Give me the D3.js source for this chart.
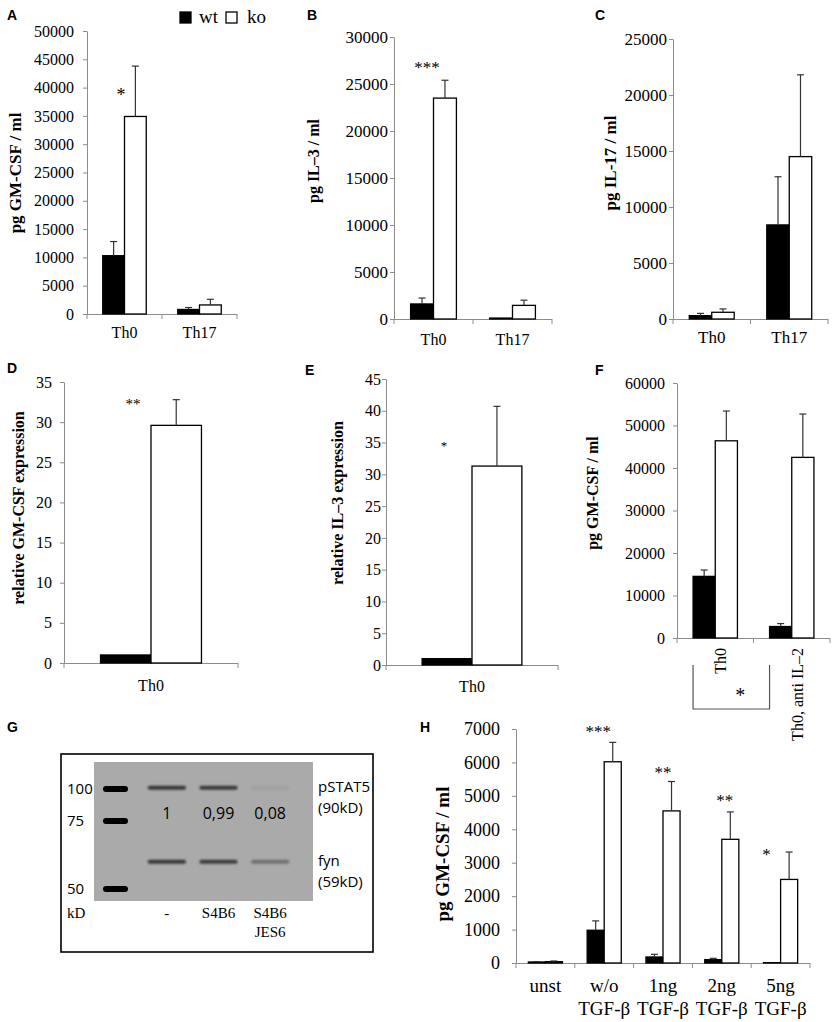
<!DOCTYPE html>
<html>
<head>
<meta charset="utf-8">
<script src="https://cdn.jsdelivr.net/npm/d3@7"></script>
<style>
body { margin: 0; background: #fff; }
svg text { font-family: "Liberation Serif", "Times New Roman", serif; fill: #000; }
.letter { font-family: "Liberation Sans", Arial, sans-serif; font-weight: bold; font-size: 14px; }
</style>
</head>
<body>
<svg id="fig" width="835" height="1022"></svg>
<script>
//////////////////////////////////////////////////////////////
///////////////////////// Data ///////////////////////////////
//////////////////////////////////////////////////////////////

var seriesKeys = ["wt", "ko"];

// A - GM-CSF protein
var catsA = ["Th0", "Th17"];
var wtA = [10300, 800], wtSdA = [2500, 350];
var koA = [34900, 1600], koSdA = [8900, 1000];
var starsA = ["*", ""];

// B - IL-3 protein
var catsB = ["Th0", "Th17"];
var wtB = [1600, 100], wtSdB = [630, 0];
var koB = [23500, 1450], koSdB = [1900, 550];
var starsB = ["***", ""];

// C - IL-17 protein
var catsC = ["Th0", "Th17"];
var wtC = [300, 8400], wtSdC = [200, 4300];
var koC = [600, 14500], koSdC = [300, 7300];

// D - GM-CSF mRNA
var catsD = ["Th0"];
var wtD = [1], wtSdD = [0];
var koD = [29.6], koSdD = [3.2];
var starsD = ["**"];

// E - IL-3 mRNA
var catsE = ["Th0"];
var wtE = [1], wtSdE = [0];
var koE = [31.3], koSdE = [9.4];
var starsE = ["*"];

// F - GM-CSF with anti IL-2
var catsF = ["Th0", "Th0, anti IL\u20132"];
var wtF = [14500, 2700], wtSdF = [1500, 700];
var koF = [46400, 42500], koSdF = [7000, 10200];

// H - GM-CSF with TGF-b
var catsH = ["unst", "w/o TGF-\u03b2", "1ng TGF-\u03b2", "2ng TGF-\u03b2", "5ng TGF-\u03b2"];
var catLinesH = [["unst"], ["w/o", "TGF-\u03b2"], ["1ng", "TGF-\u03b2"], ["2ng", "TGF-\u03b2"], ["5ng", "TGF-\u03b2"]];
var wtH = [30, 980, 180, 100, 10], wtSdH = [10, 280, 80, 40, 0];
var koH = [40, 6020, 4550, 3700, 2500], koSdH = [20, 580, 880, 820, 820];
var starsH = ["", "***", "**", "**", "*"];

// G - western blot
var blotLanes = ["-", "S4B6", "S4B6 JES6"];
var blotLaneLines = [["-"], ["S4B6"], ["S4B6", "JES6"]];
var ladderKd = [100, 75, 50];
var blotProbes = ["pSTAT5", "fyn"];
var blotProbeSizes = ["(90kD)", "(59kD)"];
var probeApparentKd = [101, 60];   // where the bands sit against the ladder
var pstat5Signal = [1, 0.99, 0.08];
var pstat5Quant = ["1", "0,99", "0,08"];
var fynSignal = [1, 0.95, 0.5];

//////////////////////////////////////////////////////////////
/////////////////////// Helpers //////////////////////////////
//////////////////////////////////////////////////////////////

var svg = d3.select("#fig");
var serif = '"Liberation Serif", "Times New Roman", serif';
var sans = '"Open Sans", "Liberation Sans", sans-serif';
var axisGrey = "#8c8c8c";

function letter(t, x, y) {
  svg.append("text").attr("class", "letter").attr("x", x).attr("y", y).text(t);
}

function barPanel(p) {
  var g = svg.append("g");
  var y = d3.scaleLinear().domain([0, p.max]).range([p.y0, p.y1]);
  var x = d3.scaleBand().domain(p.cats).range([p.x0, p.x1]);
  var bw = x.bandwidth(), barW = bw * 0.29;

  // y axis
  var ya = g.append("g")
      .attr("transform", "translate(" + p.x0 + ",0)")
      .call(d3.axisLeft(y)
          .tickValues(d3.range(0, p.max + p.step / 2, p.step))
          .tickFormat(d3.format("d"))
          .tickSize(4).tickSizeOuter(0).tickPadding(p.tickPad))
      .attr("color", axisGrey)
      .attr("font-family", serif)
      .attr("font-size", p.tickFont);
  ya.selectAll("text").attr("fill", "#111");

  // x axis, ticks on the category edges
  var edges = p.cats.map(function(c) { return x(c); }).concat([p.x1]);
  g.append("line")
      .attr("x1", p.x0).attr("x2", p.x1)
      .attr("y1", p.y0 + 0.5).attr("y2", p.y0 + 0.5)
      .attr("stroke", axisGrey);
  g.selectAll(".xtick").data(edges).enter().append("line")
      .attr("x1", function(d) { return d; }).attr("x2", function(d) { return d; })
      .attr("y1", p.y0).attr("y2", p.y0 + 5)
      .attr("stroke", axisGrey);

  var rows = p.cats.map(function(c, i) {
    return {cat: c, i: i, wt: p.wt[i], wtSd: p.wtSd[i], ko: p.ko[i], koSd: p.koSd[i]};
  });
  var barData = [];
  rows.forEach(function(r) {
    seriesKeys.forEach(function(k, j) {
      barData.push({cat: r.cat, key: k, j: j, v: r[k], sd: r[k + "Sd"]});
    });
  });
  function bx(d) { return x(d.cat) + bw / 2 + (d.j - 1) * barW; }

  // bars
  g.selectAll(".bar").data(barData).enter().append("rect")
      .attr("x", bx)
      .attr("y", function(d) { return y(d.v); })
      .attr("width", barW)
      .attr("height", function(d) { return p.y0 - y(d.v); })
      .attr("fill", function(d) { return d.key === "wt" ? "#000" : "#fff"; })
      .attr("stroke", "#000")
      .attr("stroke-width", 1.3);

  // error bars (upper only)
  var err = g.selectAll(".err").data(barData.filter(function(d) { return d.sd > 0; }))
      .enter().append("g")
      .attr("stroke", "#333").attr("stroke-width", 1.2);
  err.append("line")
      .attr("x1", function(d) { return bx(d) + barW / 2; })
      .attr("x2", function(d) { return bx(d) + barW / 2; })
      .attr("y1", function(d) { return y(d.v); })
      .attr("y2", function(d) { return y(d.v + d.sd); });
  err.append("line")
      .attr("x1", function(d) { return bx(d) + barW / 2 - 3.5; })
      .attr("x2", function(d) { return bx(d) + barW / 2 + 3.5; })
      .attr("y1", function(d) { return y(d.v + d.sd); })
      .attr("y2", function(d) { return y(d.v + d.sd); });

  // significance stars
  if (p.stars) {
    g.selectAll(".star").data(rows.filter(function(r) { return p.stars[r.i]; }))
        .enter().append("text")
        .attr("x", function(r) {
          var dx = Array.isArray(p.starDx) ? p.starDx[r.i] : p.starDx;
          return x(r.cat) + bw / 2 + dx;
        })
        .attr("y", function(r) { return y(p.starAt[r.i]); })
        .attr("dy", "0.48em")
        .attr("text-anchor", "middle")
        .attr("font-size", p.starFont)
        .text(function(r) { return p.stars[r.i]; });
  }

  // category labels
  var labels = g.selectAll(".xlab").data(rows).enter().append("text")
      .attr("font-size", p.labFont);
  if (p.rotate) {
    labels
        .attr("transform", function(r) {
          return "translate(" + (x(r.cat) + bw / 2) + "," + (p.y0 + p.labDy) + ") rotate(-90)";
        })
        .attr("text-anchor", "end")
        .attr("dy", "0.7em")
        .text(function(r) { return r.cat; });
  } else {
    labels
        .attr("text-anchor", "middle")
        .attr("transform", function(r) {
          return "translate(" + (x(r.cat) + bw / 2) + "," + (p.y0 + p.labDy) + ")";
        });
    labels.selectAll("tspan")
        .data(function(r) { return p.labLines ? p.labLines[r.i] : [r.cat]; })
        .enter().append("tspan")
        .attr("x", 0)
        .attr("y", function(d, k) { return k * (p.lineGap || 0); })
        .text(function(d) { return d; });
  }

  // y title
  g.append("text")
      .attr("transform", "translate(" + p.titleX + "," + p.titleY + ") rotate(-90)")
      .attr("dy", "0.35em")
      .attr("text-anchor", "middle")
      .attr("font-weight", "bold")
      .attr("font-size", p.titleFont)
      .text(p.title);

  return {x: x, y: y, bw: bw, barW: barW, g: g};
}

//////////////////////////////////////////////////////////////
///////////////////////// Panels /////////////////////////////
//////////////////////////////////////////////////////////////

// A
letter("A", 7, 20);
barPanel({cats: catsA, wt: wtA, wtSd: wtSdA, ko: koA, koSd: koSdA,
  max: 50000, step: 5000, x0: 87, x1: 237, y0: 314, y1: 31,
  tickPad: 9, tickFont: 16, labFont: 16, labDy: 24,
  title: "pg GM-CSF / ml", titleX: 15, titleY: 173, titleFont: 17,
  stars: starsA, starAt: [39200], starDx: -3.5, starFont: 18});

// legend
var legend = svg.append("g").attr("transform", "translate(180,12)");
seriesKeys.forEach(function(k, i) {
  legend.append("rect")
      .attr("x", i * 46).attr("y", 0).attr("width", 11).attr("height", 11)
      .attr("fill", k === "wt" ? "#000" : "#fff")
      .attr("stroke", "#000").attr("stroke-width", 1.3);
  legend.append("text")
      .attr("x", i * 46 + 19 + i * 2).attr("y", 10.5)
      .attr("font-size", 19)
      .text(k);
});

// B
letter("B", 307, 20);
barPanel({cats: catsB, wt: wtB, wtSd: wtSdB, ko: koB, koSd: koSdB,
  max: 30000, step: 5000, x0: 394, x1: 552, y0: 319, y1: 37,
  tickPad: 2, tickFont: 17, labFont: 16, labDy: 26,
  title: "pg IL\u20133 / ml", titleX: 313, titleY: 161, titleFont: 16,
  stars: starsB, starAt: [27000], starDx: -6.5, starFont: 17});

// C
letter("C", 595, 20);
barPanel({cats: catsC, wt: wtC, wtSd: wtSdC, ko: koC, koSd: koSdC,
  max: 25000, step: 5000, x0: 673, x1: 828, y0: 319, y1: 39,
  tickPad: 2, tickFont: 17, labFont: 17, labDy: 24,
  title: "pg IL-17 / ml", titleX: 610, titleY: 163, titleFont: 17});

// D
letter("D", 7, 373);
barPanel({cats: catsD, wt: wtD, wtSd: wtSdD, ko: koD, koSd: koSdD,
  max: 35, step: 5, x0: 64, x1: 238, y0: 663, y1: 382,
  tickPad: 8, tickFont: 16, labFont: 16, labDy: 28,
  title: "relative GM-CSF expression", titleX: 18, titleY: 508, titleFont: 16,
  stars: starsD, starAt: [32.5], starDx: -18, starFont: 15});

// E
letter("E", 305, 375);
barPanel({cats: catsE, wt: wtE, wtSd: wtSdE, ko: koE, koSd: koSdE,
  max: 45, step: 5, x0: 386, x1: 558, y0: 665, y1: 379,
  tickPad: 1, tickFont: 16, labFont: 16, labDy: 27,
  title: "relative IL\u20133 expression", titleX: 337, titleY: 503, titleFont: 16,
  stars: starsE, starAt: [34.8], starDx: -28, starFont: 13});

// F
letter("F", 595, 375);
var pf = barPanel({cats: catsF, wt: wtF, wtSd: wtSdF, ko: koF, koSd: koSdF,
  max: 60000, step: 10000, x0: 677, x1: 830, y0: 638, y1: 383,
  tickPad: 8, tickFont: 16, labFont: 16, labDy: 10, rotate: true,
  title: "pg GM-CSF / ml", titleX: 592, titleY: 493, titleFont: 16});

// comparison bracket under F
var bl = pf.x(catsF[0]) + pf.bw / 2 - pf.barW;
var br = pf.x(catsF[1]) + pf.bw / 2 - pf.barW;
pf.g.append("path")
    .attr("d", "M" + bl + ",665V709H" + br + "V665")
    .attr("fill", "none").attr("stroke", "#555").attr("stroke-width", 1.2);
pf.g.append("text")
    .attr("x", (bl + br) / 2 + 9).attr("y", 692).attr("dy", "0.48em")
    .attr("text-anchor", "middle").attr("font-size", 20)
    .text("*");

// H
letter("H", 420, 732);
barPanel({cats: catsH, labLines: catLinesH, wt: wtH, wtSd: wtSdH, ko: koH, koSd: koSdH,
  max: 7000, step: 1000, x0: 516, x1: 810, y0: 963, y1: 729,
  tickPad: 12, tickFont: 18, labFont: 19, labDy: 29, lineGap: 23,
  title: "pg GM-CSF / ml", titleX: 442, titleY: 854, titleFont: 19,
  stars: starsH, starAt: [0, 6997, 5770, 4930, 3315], starDx: [0, -6, 0, 3, -14], starFont: 17});

//////////////////////////////////////////////////////////////
///////////////////// Western blot (G) ///////////////////////
//////////////////////////////////////////////////////////////

letter("G", 7, 732);

var defs = svg.append("defs");
defs.append("filter").attr("id", "blurBand")
    .attr("x", "-20%").attr("y", "-100%").attr("width", "140%").attr("height", "300%")
  .append("feGaussianBlur").attr("stdDeviation", 1.2);
defs.append("filter").attr("id", "blurLadder")
    .attr("x", "-20%").attr("y", "-100%").attr("width", "140%").attr("height", "300%")
  .append("feGaussianBlur").attr("stdDeviation", 0.6);

var kdY = d3.scaleLinear().domain(ladderKd).range([789, 821, 889]);
var laneX = d3.scaleBand().domain(blotLanes).range([141, 296]);
var lw = laneX.bandwidth();

var blot = svg.append("g");
blot.append("rect")
    .attr("x", 61).attr("y", 754).attr("width", 312).attr("height", 198)
    .attr("fill", "#fff").attr("stroke", "#000").attr("stroke-width", 1.6);
blot.append("rect")
    .attr("x", 94).attr("y", 762).attr("width", 219).attr("height", 139)
    .attr("fill", "#aaaaaa");

// ladder
blot.selectAll(".ladder").data(ladderKd).enter().append("rect")
    .attr("x", 103).attr("width", 25)
    .attr("y", function(d) { return kdY(d) - 3; }).attr("height", 6)
    .attr("rx", 3)
    .attr("fill", "#050505")
    .attr("filter", "url(#blurLadder)");
blot.selectAll(".ladderLab").data(ladderKd).enter().append("text")
    .attr("x", 67).attr("y", function(d) { return kdY(d); }).attr("dy", "0.36em")
    .style("font-family", sans).attr("font-size", 15).attr("fill", "#111")
    .text(function(d) { return d; });

// sample bands
[pstat5Signal, fynSignal].forEach(function(signal, r) {
  blot.selectAll(".band" + r).data(blotLanes).enter().append("rect")
      .attr("x", function(d) { return laneX(d) + lw * 0.13; })
      .attr("width", lw * 0.74)
      .attr("y", function() { return kdY(probeApparentKd[r]) - 2; })
      .attr("height", 4)
      .attr("rx", 2)
      .attr("fill", "#2a2a2a")
      .attr("opacity", function(d, i) { return signal[i] * 0.88; })
      .attr("filter", "url(#blurBand)");
});

// pSTAT5 quantification
blot.selectAll(".quant").data(pstat5Quant).enter().append("text")
    .attr("x", function(d, i) { return laneX(blotLanes[i]) + lw / 2; })
    .attr("y", 819)
    .attr("text-anchor", "middle")
    .style("font-family", sans).attr("font-size", 16).attr("fill", "#1a1a1a")
    .text(function(d) { return d; });

// probe labels
blotProbes.forEach(function(name, r) {
  var yb = kdY(probeApparentKd[r]);
  blot.append("text").attr("x", 318).attr("y", yb + 4)
      .style("font-family", sans).attr("font-size", 15).text(name);
  blot.append("text").attr("x", 318).attr("y", yb + 25)
      .style("font-family", sans).attr("font-size", 15).text(blotProbeSizes[r]);
});

// lane labels
blot.append("text").attr("x", 67).attr("y", 918).attr("font-size", 15).text("kD");
var laneLab = blot.selectAll(".laneLab").data(blotLanes).enter().append("text")
    .attr("text-anchor", "middle").attr("font-size", 15)
    .attr("transform", function(d) { return "translate(" + (laneX(d) + lw / 2) + ",918)"; });
laneLab.selectAll("tspan")
    .data(function(d, i) { return blotLaneLines[i]; })
    .enter().append("tspan")
    .attr("x", 0).attr("y", function(d, k) { return k * 19; })
    .text(function(d) { return d; });
</script>
</body>
</html>
